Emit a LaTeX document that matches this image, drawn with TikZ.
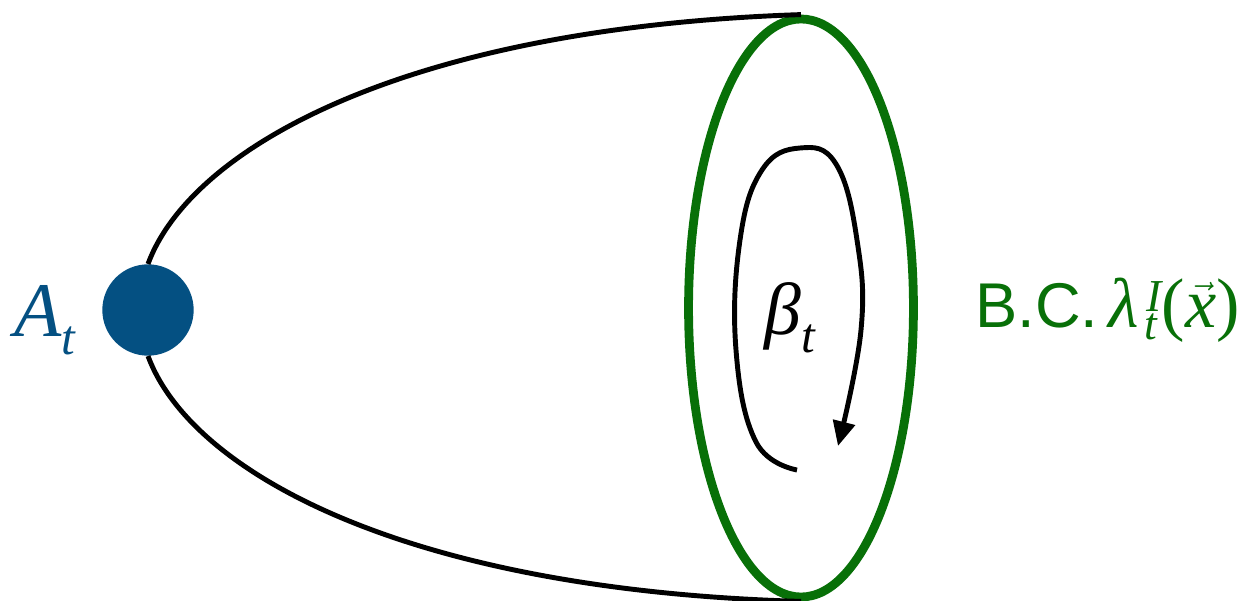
\documentclass[tikz,border=0pt]{standalone}
\usepackage{fontspec}
\setmainfont{Liberation Serif}
\newfontfamily\arialf{Liberation Sans}
\usetikzlibrary{arrows.meta,shapes.geometric}
\definecolor{dotblue}{RGB}{4,80,130}
\definecolor{bcgreen}{RGB}{8,112,8}
\begin{document}
\begin{tikzpicture}[x=0.02cm,y=-0.02cm,
  wire/.style={line width=2.8pt},
  lbl/.style={inner sep=0pt,anchor=base west}]
\useasboundingbox (0,0) rectangle (1244,601);
\node[circle,fill=dotblue,minimum size=52pt,inner sep=0pt] (dot) at (148,310) {};
\node[draw=bcgreen,line width=5pt,ellipse,minimum width=128pt,minimum height=329pt,inner sep=0pt] (bc) at (801,308) {};
\draw[wire] (dot.north) .. controls (190,150) and (400,28) .. (bc.north);
\draw[wire] (dot.south) .. controls (190,470) and (400,590) .. (bc.south);
% loop arrow
\coordinate (ls) at (797,470);
\coordinate (le) at (838,446);
\draw[wire,-{Triangle[length=14pt,width=12.5pt]}] plot[smooth,tension=0.7] coordinates
  {(ls) (756,442) (736,350) (740,240) (762,170) (800,148) (836,164) (857,240) (861,330) (le)};
% labels
\node[lbl,text=dotblue] (at) at (14,337) {\fontsize{44}{50}\selectfont\itshape A\raisebox{-10pt}{\fontsize{28}{30}\selectfont t}};
\node[lbl] (beta) at (764,335) {\fontsize{42}{50}\selectfont\itshape β\raisebox{-10pt}{\fontsize{28}{30}\selectfont t}};
\node[lbl,text=bcgreen] (bct) at (975,327) {\arialf\fontsize{36}{42}\selectfont B.C.};
\node[lbl,text=bcgreen] (lam) at (1108,327) {\fontsize{40}{48}\selectfont\itshape λ\kern3pt\rlap{\raisebox{-7pt}{\fontsize{26}{30}\selectfont t}}\kern1.5pt\raisebox{9pt}{\fontsize{26}{30}\selectfont I}\upshape(\ensuremath{\vec{\mbox{\itshape x}}})};
\end{tikzpicture}
\end{document}
